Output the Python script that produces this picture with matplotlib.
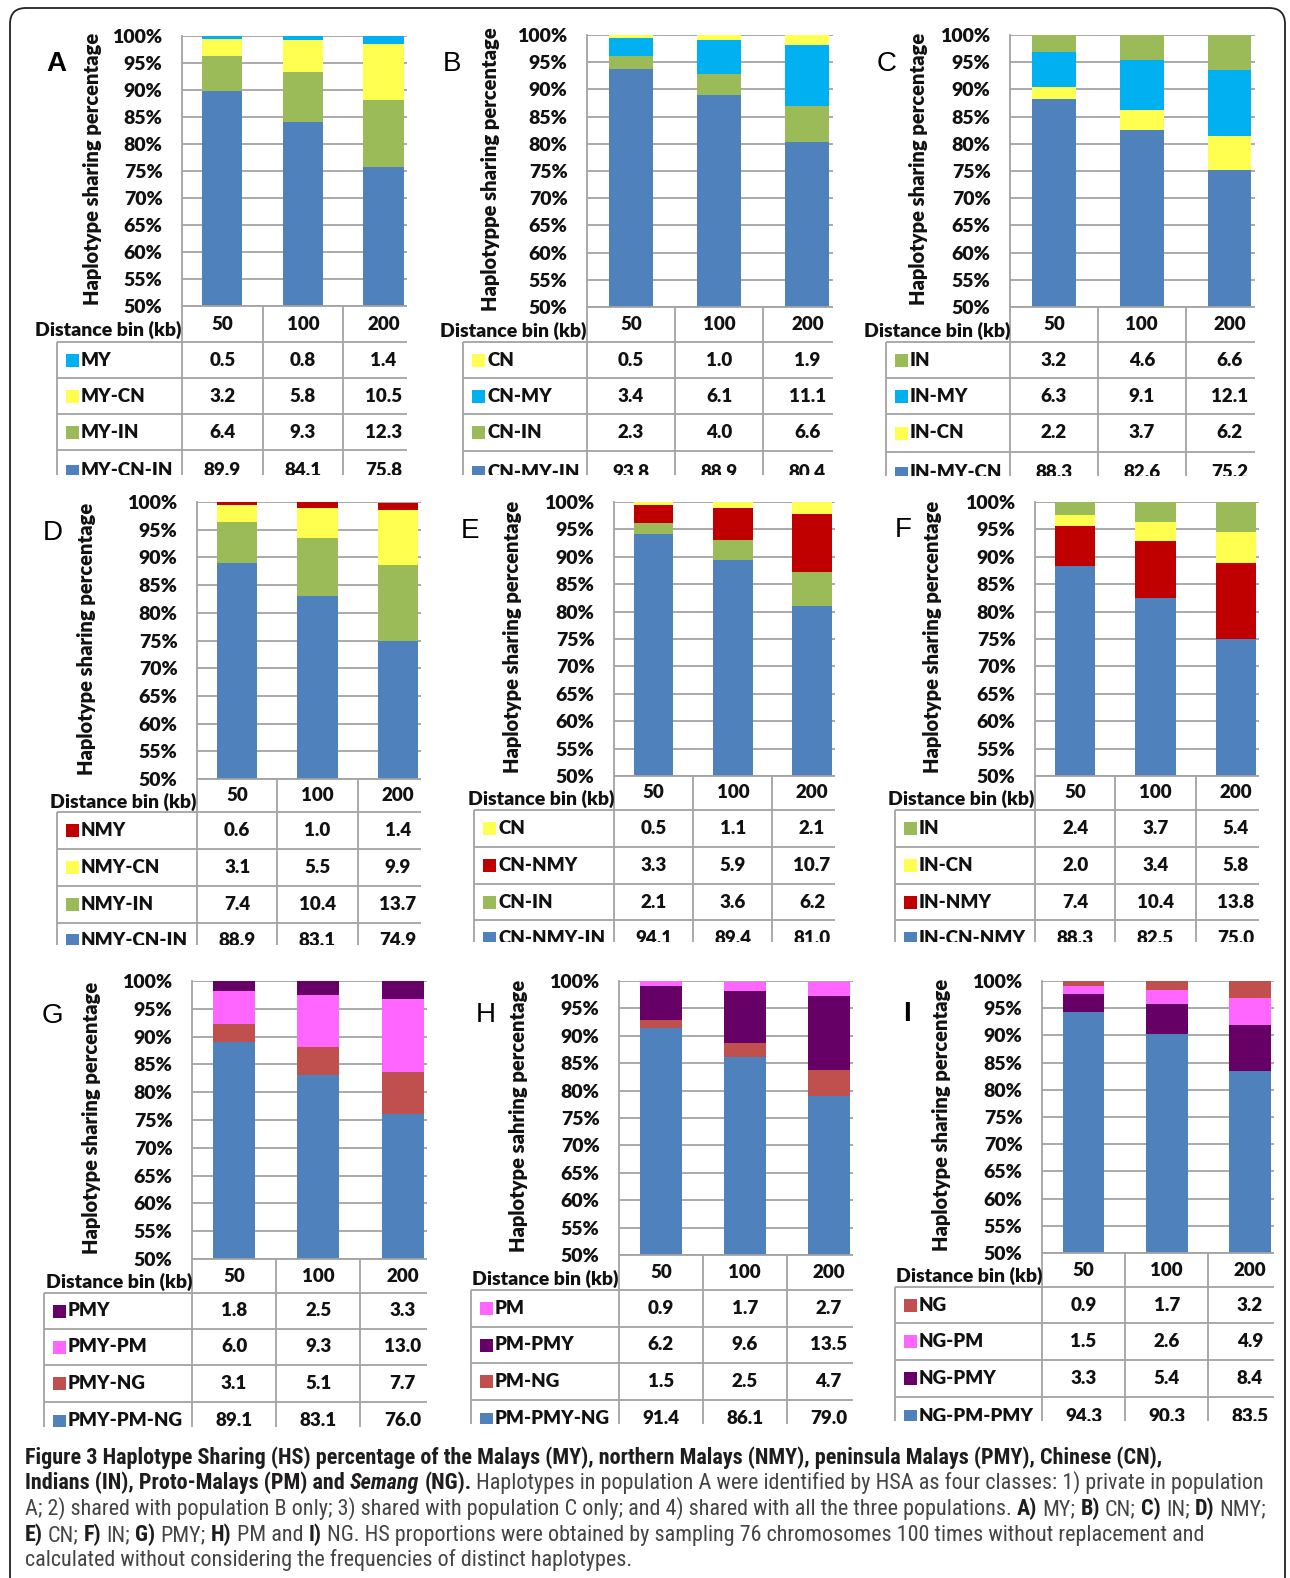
import numpy as np
import matplotlib
matplotlib.use("Agg")
import matplotlib.pyplot as plt
from matplotlib import font_manager
from matplotlib.patches import FancyBboxPatch, Rectangle
from matplotlib.transforms import IdentityTransform

FIG_W, FIG_H, DPI = 1290, 1578, 100

plt.rcParams["font.family"] = ["Lato", "DejaVu Sans"]

# ---------------------------------------------------------------- data
distance_bins = ["50", "100", "200"]
pct_ticks = list(range(50, 101, 5))

# A) Malays (MY)
A_MY = [0.5, 0.8, 1.4]
A_MY_CN = [3.2, 5.8, 10.5]
A_MY_IN = [6.4, 9.3, 12.3]
A_MY_CN_IN = [89.9, 84.1, 75.8]
# B) Chinese (CN)
B_CN = [0.5, 1.0, 1.9]
B_CN_MY = [3.4, 6.1, 11.1]
B_CN_IN = [2.3, 4.0, 6.6]
B_CN_MY_IN = [93.8, 88.9, 80.4]
# C) Indians (IN)
C_IN = [3.2, 4.6, 6.6]
C_IN_MY = [6.3, 9.1, 12.1]
C_IN_CN = [2.2, 3.7, 6.2]
C_IN_MY_CN = [88.3, 82.6, 75.2]
# D) northern Malays (NMY)
D_NMY = [0.6, 1.0, 1.4]
D_NMY_CN = [3.1, 5.5, 9.9]
D_NMY_IN = [7.4, 10.4, 13.7]
D_NMY_CN_IN = [88.9, 83.1, 74.9]
# E) Chinese (CN)
E_CN = [0.5, 1.1, 2.1]
E_CN_NMY = [3.3, 5.9, 10.7]
E_CN_IN = [2.1, 3.6, 6.2]
E_CN_NMY_IN = [94.1, 89.4, 81.0]
# F) Indians (IN)
F_IN = [2.4, 3.7, 5.4]
F_IN_CN = [2.0, 3.4, 5.8]
F_IN_NMY = [7.4, 10.4, 13.8]
F_IN_CN_NMY = [88.3, 82.5, 75.0]
# G) peninsula Malays (PMY)
G_PMY = [1.8, 2.5, 3.3]
G_PMY_PM = [6.0, 9.3, 13.0]
G_PMY_NG = [3.1, 5.1, 7.7]
G_PMY_PM_NG = [89.1, 83.1, 76.0]
# H) Proto-Malays (PM)
H_PM = [0.9, 1.7, 2.7]
H_PM_PMY = [6.2, 9.6, 13.5]
H_PM_NG = [1.5, 2.5, 4.7]
H_PM_PMY_NG = [91.4, 86.1, 79.0]
# I) Semang (NG)
I_NG = [0.9, 1.7, 3.2]
I_NG_PM = [1.5, 2.6, 4.9]
I_NG_PMY = [3.3, 5.4, 8.4]
I_NG_PM_PMY = [94.3, 90.3, 83.5]

# ---------------------------------------------------------------- style
BLUE = "#4F81BD"
GREEN = "#9BBB59"
YELLOW = "#FFFF50"
CYAN = "#00B0F0"
RED = "#C00000"
PURPLE = "#660066"
PINK = "#FF66FF"
ROSE = "#C0504D"
GRID = "#A3A3A3"
INK = "#111111"
CAP_BOLD = "#1E1C1D"
CAP_TEXT = "#444444"
TXT_WEIGHT = "heavy"

YLAB = "Haplotype sharing percentage"
X_RIGHT = 2.29  # bars sit at 0, 1, 2; the third one touches the clipped right edge

# geometry in pixels: box = (left, right, top, bottom) of the bar area,
# lines = table row separators, clip = where the table is cut off,
# last = offset of the partly hidden last row below its top line
panels = [
    dict(letter="A", bold=True, ylabel=YLAB,
         rows=[("MY", A_MY, CYAN), ("MY-CN", A_MY_CN, YELLOW),
               ("MY-IN", A_MY_IN, GREEN), ("MY-CN-IN", A_MY_CN_IN, BLUE)],
         box=(182, 407, 36, 306), lines=(342, 378, 414, 450), clip=475, last=21,
         tleft=57, letter_xy=(56, 64), ylab_x=93),
    dict(letter="B", bold=False, ylabel="Haplotyppe sharing percentage",
         rows=[("CN", B_CN, YELLOW), ("CN-MY", B_CN_MY, CYAN),
               ("CN-IN", B_CN_IN, GREEN), ("CN-MY-IN", B_CN_MY_IN, BLUE)],
         box=(587, 833, 35, 307), lines=(342, 378, 414, 451), clip=475, last=21,
         tleft=463, letter_xy=(452, 64), ylab_x=491),
    dict(letter="C", bold=False, ylabel=YLAB,
         rows=[("IN", C_IN, GREEN), ("IN-MY", C_IN_MY, CYAN),
               ("IN-CN", C_IN_CN, YELLOW), ("IN-MY-CN", C_IN_MY_CN, BLUE)],
         box=(1010, 1255, 35, 307), lines=(342, 378, 414, 452), clip=476, last=21,
         tleft=886, letter_xy=(887, 64), ylab_x=919),
    dict(letter="D", bold=False, ylabel=YLAB,
         rows=[("NMY", D_NMY, RED), ("NMY-CN", D_NMY_CN, YELLOW),
               ("NMY-IN", D_NMY_IN, GREEN), ("NMY-CN-IN", D_NMY_CN_IN, BLUE)],
         box=(197, 421, 502, 779), lines=(812, 849, 886, 923), clip=945, last=18,
         tleft=57, letter_xy=(53, 533), ylab_x=87),
    dict(letter="E", bold=False, ylabel=YLAB,
         rows=[("CN", E_CN, YELLOW), ("CN-NMY", E_CN_NMY, RED),
               ("CN-IN", E_CN_IN, GREEN), ("CN-NMY-IN", E_CN_NMY_IN, BLUE)],
         box=(614, 835, 502, 776), lines=(810, 847, 884, 920), clip=942, last=18,
         tleft=474, letter_xy=(470, 531), ylab_x=513),
    dict(letter="F", bold=False, ylabel=YLAB,
         rows=[("IN", F_IN, GREEN), ("IN-CN", F_IN_CN, YELLOW),
               ("IN-NMY", F_IN_NMY, RED), ("IN-CN-NMY", F_IN_CN_NMY, BLUE)],
         box=(1035, 1259, 502, 776), lines=(810, 847, 884, 920), clip=942, last=18,
         tleft=895, letter_xy=(903, 530), ylab_x=932),
    dict(letter="G", bold=False, ylabel=YLAB,
         rows=[("PMY", G_PMY, PURPLE), ("PMY-PM", G_PMY_PM, PINK),
               ("PMY-NG", G_PMY_NG, ROSE), ("PMY-PM-NG", G_PMY_PM_NG, BLUE)],
         box=(192, 427, 981, 1259), lines=(1293, 1329, 1365, 1402), clip=1427, last=19,
         tleft=44, letter_xy=(52, 1016), ylab_x=92),
    dict(letter="H", bold=False, ylabel="Haplotype sahring percentage",
         rows=[("PM", H_PM, PINK), ("PM-PMY", H_PM_PMY, PURPLE),
               ("PM-NG", H_PM_NG, ROSE), ("PM-PMY-NG", H_PM_PMY_NG, BLUE)],
         box=(619, 853, 981, 1255), lines=(1290, 1327, 1363, 1400), clip=1424, last=19,
         tleft=471, letter_xy=(486, 1015), ylab_x=518),
    dict(letter="I", bold=True, ylabel=YLAB,
         rows=[("NG", I_NG, ROSE), ("NG-PM", I_NG_PM, PINK),
               ("NG-PMY", I_NG_PMY, PURPLE), ("NG-PM-PMY", I_NG_PM_PMY, BLUE)],
         box=(1042, 1274, 981, 1253), lines=(1287, 1323, 1360, 1397), clip=1421, last=19,
         tleft=895, letter_xy=(907, 1014), ylab_x=941),
]

TICK_SIZE = 14
TABLE_SIZE = 13.5
DIST_SIZE = 14
YLAB_SIZE = 14.5


def fx(x):
    return x / FIG_W


def fy(y):
    return 1 - y / FIG_H


fig = plt.figure(figsize=(FIG_W / DPI, FIG_H / DPI), dpi=DPI)
fig.patch.set_facecolor("white")

# rounded frame around the whole figure
frame = FancyBboxPatch((10, -40), 1275, FIG_H - 8 + 40,
                       boxstyle="round,pad=0,rounding_size=16",
                       transform=IdentityTransform(), facecolor="none",
                       edgecolor="#222222", linewidth=1.3)
fig.add_artist(frame)

for p in panels:
    L, R, T, B = p["box"]
    ax = fig.add_axes([fx(L), fy(B), (R - L) / FIG_W, (B - T) / FIG_H])
    x = np.arange(len(distance_bins))
    base = np.zeros(len(x))
    for name, vals, col in reversed(p["rows"]):
        ax.bar(x, vals, width=0.5, bottom=base, color=col, linewidth=0, zorder=2)
        base = base + np.asarray(vals, dtype=float)
    ax.set_xlim(-0.5, X_RIGHT)
    ax.set_ylim(50, 100)
    ax.set_yticks(pct_ticks)
    ax.set_yticklabels([f"{t}%" for t in pct_ticks])
    ax.set_xticks([])
    ax.grid(axis="y", color=GRID, linewidth=1.3)
    ax.set_axisbelow(True)
    ax.tick_params(axis="y", length=0, pad=14, labelsize=TICK_SIZE, labelcolor=INK)
    for lbl in ax.get_yticklabels():
        lbl.set_fontweight(TXT_WEIGHT)
    for s in ("top", "right", "bottom"):
        ax.spines[s].set_visible(False)
    ax.spines["left"].set_color(GRID)
    ax.spines["left"].set_linewidth(1.3)
    ax.patch.set_alpha(0)

    # y label and panel letter
    fig.text(fx(p["ylab_x"]), fy((T + B) / 2 - 2), p["ylabel"], rotation=90,
             ha="center", va="center", fontsize=YLAB_SIZE, fontweight=TXT_WEIGHT, color=INK)
    lx, ly = p["letter_xy"]
    fig.text(fx(lx), fy(ly), p["letter"], ha="center", va="center", fontsize=20,
             family="Liberation Sans", fontweight="bold" if p["bold"] else "normal",
             color="black")

    # data table under the bars
    hdr, r1, r2, r3 = p["lines"]
    clip = p["clip"]
    tl = p["tleft"]
    tax = fig.add_axes([fx(tl), fy(clip), (R - tl) / FIG_W, (clip - B) / FIG_H])
    tax.set_xlim(tl, R)
    tax.set_ylim(clip, B)
    tax.axis("off")
    cw = (R - L) / (X_RIGHT + 0.5)
    for i in range(len(distance_bins)):
        xe = L + i * cw
        tax.plot([xe, xe], [B, clip], color=GRID, lw=1.3, solid_capstyle="butt", clip_on=False)
    tax.plot([L, R], [B, B], color=GRID, lw=1.3, solid_capstyle="butt", clip_on=False)
    tax.plot([tl, tl], [hdr, clip], color=GRID, lw=1.3, solid_capstyle="butt", clip_on=False)
    for yl in (hdr, r1, r2, r3):
        tax.plot([tl, R], [yl, yl], color=GRID, lw=1.3, solid_capstyle="butt")

    hc = (B + hdr) / 2
    for i, b in enumerate(distance_bins):
        tax.text(L + (i + 0.5) * cw, hc, b, ha="center", va="center",
                 fontsize=TABLE_SIZE, fontweight=TXT_WEIGHT, color=INK)
    tax.text(L, hc + 6, "Distance bin (kb)", ha="right", va="center",
             fontsize=DIST_SIZE, fontweight=TXT_WEIGHT, color=INK, clip_on=False)

    centers = [(hdr + r1) / 2, (r1 + r2) / 2, (r2 + r3) / 2, r3 + p["last"]]
    for (name, vals, col), cy in zip(p["rows"], centers):
        tax.add_patch(Rectangle((tl + 9, cy - 6.5), 13, 13, facecolor=col,
                                edgecolor="none", clip_on=True))
        tax.text(tl + 24, cy, name, ha="left", va="center", fontsize=TABLE_SIZE,
                 fontweight=TXT_WEIGHT, color=INK, clip_on=True)
        for i, v in enumerate(vals):
            tax.text(L + (i + 0.5) * cw, cy, f"{v:.1f}", ha="center", va="center",
                     fontsize=TABLE_SIZE, fontweight=TXT_WEIGHT, color=INK, clip_on=True)

# ---------------------------------------------------------------- caption
renderer = fig.canvas.get_renderer()


def pick_caption_font():
    entries = font_manager.fontManager.ttflist
    names = {f.name for f in entries}
    for cand in ("Liberation Sans Narrow", "Roboto Condensed", "Open Sans Condensed",
                 "Noto Sans Condensed"):
        if cand in names:
            return cand, "normal"
    for f in entries:
        if f.name == "DejaVu Sans" and str(f.stretch) in ("condensed", "semi-condensed"):
            return "DejaVu Sans", "condensed"
    return "Liberation Sans", "normal"


CAP_FAMILY, CAP_STRETCH = pick_caption_font()

STYLES = {
    "b": dict(fontweight="bold", fontstyle="normal", color=CAP_BOLD),
    "r": dict(fontweight="normal", fontstyle="normal", color=CAP_TEXT),
    "bi": dict(fontweight="bold", fontstyle="italic", color=CAP_BOLD),
}

caption_lines = [
    [("b", "Figure 3 Haplotype Sharing (HS) percentage of the Malays (MY), northern Malays (NMY), "
           "peninsula Malays (PMY), Chinese (CN),")],
    [("b", "Indians (IN), Proto-Malays (PM) and "), ("bi", "Semang"), ("b", " (NG)."),
     ("r", " Haplotypes in population A were identified by HSA as four classes: 1) private in population")],
    [("r", "A; 2) shared with population B only; 3) shared with population C only; and 4) shared with "
           "all the three populations. "),
     ("b", "A)"), ("r", " MY; "), ("b", "B)"), ("r", " CN; "), ("b", "C)"), ("r", " IN; "),
     ("b", "D)"), ("r", " NMY;")],
    [("b", "E)"), ("r", " CN; "), ("b", "F)"), ("r", " IN; "), ("b", "G)"), ("r", " PMY; "),
     ("b", "H)"), ("r", " PM and "), ("b", "I)"),
     ("r", " NG. HS proportions were obtained by sampling 76 chromosomes 100 times without replacement and")],
    [("r", "calculated without considering the frequencies of distinct haplotypes.")],
]
caption_baselines = [1464, 1489, 1515, 1541, 1566]
CAP_X0 = 25
CAP_TARGET = 1240  # width of the second caption line


def measure(s, size, st):
    t = fig.text(0, 0, s, fontsize=size, family=CAP_FAMILY, fontstretch=CAP_STRETCH,
                 **STYLES[st])
    w = t.get_window_extent(renderer=renderer).width
    t.remove()
    return w


def layout(runs, size):
    pieces = []
    x = 0.0
    for st, s in runs:
        sw = measure("n n", size, st) - measure("nn", size, st)
        lead = len(s) - len(s.lstrip(" "))
        trail = len(s) - len(s.rstrip(" "))
        core = s.strip(" ")
        x += lead * sw
        pieces.append((x, core, st))
        x += measure(core, size, st) + trail * sw
    return pieces, x


_, w12 = layout(caption_lines[1], 12)
cap_size = 12 * CAP_TARGET / w12

for runs, yb in zip(caption_lines, caption_baselines):
    pieces, _ = layout(runs, cap_size)
    for px, s, st in pieces:
        fig.text(fx(CAP_X0 + px), fy(yb), s, ha="left", va="baseline",
                 fontsize=cap_size, family=CAP_FAMILY, fontstretch=CAP_STRETCH,
                 **STYLES[st])

fig.savefig("out.png", dpi=DPI, facecolor="white")
